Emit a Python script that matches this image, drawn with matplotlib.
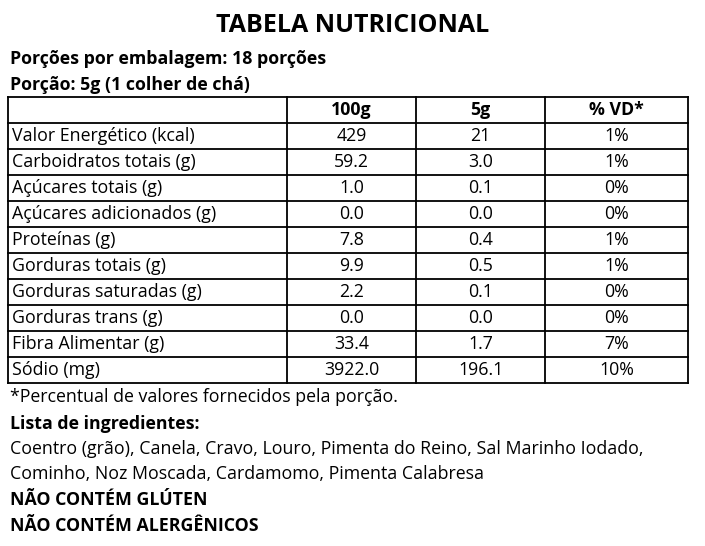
import matplotlib.pyplot as plt

title = 'TABELA NUTRICIONAL'
porcoes = 'Porções por embalagem: 18 porções'
porcao = 'Porção: 5g (1 colher de chá)'
headers = ['', '100g', '5g', '% VD*']
nutrients = ['Valor Energético (kcal)', 'Carboidratos totais (g)', 'Açúcares totais (g)',
             'Açúcares adicionados (g)', 'Proteínas (g)', 'Gorduras totais (g)',
             'Gorduras saturadas (g)', 'Gorduras trans (g)', 'Fibra Alimentar (g)', 'Sódio (mg)']
per100 = ['429', '59.2', '1.0', '0.0', '7.8', '9.9', '2.2', '0.0', '33.4', '3922.0']
per5 = ['21', '3.0', '0.1', '0.0', '0.4', '0.5', '0.1', '0.0', '1.7', '196.1']
vd = ['1%', '1%', '0%', '0%', '1%', '1%', '0%', '0%', '7%', '10%']
footnote = '*Percentual de valores fornecidos pela porção.'
ingredients_title = 'Lista de ingredientes:'
ingredients = ['Coentro (grão), Canela, Cravo, Louro, Pimenta do Reino, Sal Marinho Iodado,',
               'Cominho, Noz Moscada, Cardamomo, Pimenta Calabresa']
warnings = ['NÃO CONTÉM GLÚTEN', 'NÃO CONTÉM ALERGÊNICOS']

plt.rcParams['font.family'] = 'Open Sans'
W, H = 705, 546
fig = plt.figure(figsize=(7.05, 5.46), dpi=100)
ax = fig.add_axes([0, 0, 1, 1])
ax.set_xlim(0, W)
ax.set_ylim(H, 0)
ax.axis('off')

fs = 12.8
ax.text(W / 2, 26, title, ha='center', va='center', fontsize=18, fontweight='bold')
ax.text(10, 59, porcoes, va='center', fontsize=fs, fontweight='bold')
ax.text(10, 85, porcao, va='center', fontsize=fs, fontweight='bold')

# table grid
left, right, top, rh = 8, 688, 97, 26
cols = [left, 287, 416, 545, right]
nrows = len(nutrients) + 1
bottom = top + nrows * rh
for i in range(nrows + 1):
    ax.plot([left, right], [top + i * rh] * 2, color='black', lw=1.3)
for x in cols:
    ax.plot([x, x], [top, bottom], color='black', lw=1.3)

centers = [(cols[i] + cols[i + 1]) / 2 for i in range(4)]
for j, h in enumerate(headers[1:]):
    ax.text(centers[j + 1], top + rh / 2, h, ha='center', va='center', fontsize=fs, fontweight='bold')
for i, name in enumerate(nutrients):
    y = top + (i + 1.5) * rh
    ax.text(left + 4, y, name, va='center', fontsize=fs)
    for j, v in enumerate([per100[i], per5[i], vd[i]]):
        ax.text(centers[j + 1], y, v, ha='center', va='center', fontsize=fs)

ax.text(10, 397, footnote, va='center', fontsize=fs)
ax.text(10, 424, ingredients_title, va='center', fontsize=fs, fontweight='bold')
ax.text(10, 449, ingredients[0], va='center', fontsize=fs)
ax.text(10, 474, ingredients[1], va='center', fontsize=fs)
ax.text(10, 500, warnings[0], va='center', fontsize=fs, fontweight='bold')
ax.text(10, 526, warnings[1], va='center', fontsize=fs, fontweight='bold')

fig.savefig('out.png', dpi=100, facecolor='white')
